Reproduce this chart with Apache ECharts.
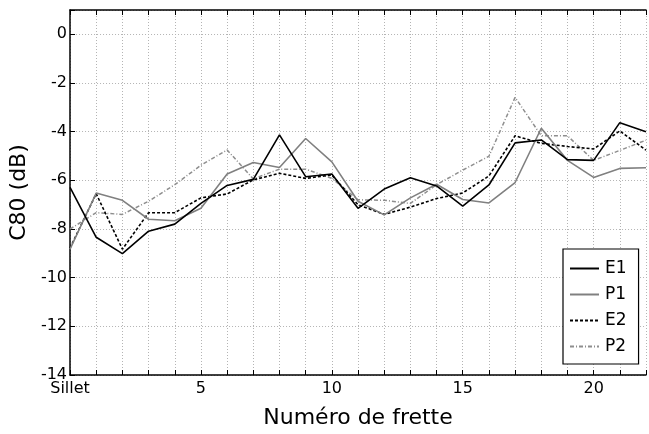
<!DOCTYPE html>
<html>
<head>
<meta charset="utf-8">
<script src="https://cdn.jsdelivr.net/npm/echarts@6/dist/echarts.min.js"></script>
<style>html,body{margin:0;padding:0;background:#fff}#c{width:649px;height:434px}</style>
</head>
<body>
<div id="c"></div>
<script>
var frets = [0,1,2,3,4,5,6,7,8,9,10,11,12,13,14,15,16,17,18,19,20,21,22];
var E1 = [-6.29,-8.34,-9.01,-8.09,-7.80,-6.95,-6.21,-5.96,-4.13,-5.85,-5.74,-7.15,-6.36,-5.89,-6.23,-7.06,-6.19,-4.46,-4.34,-5.15,-5.18,-3.63,-4.0];
var P1 = [-8.83,-6.52,-6.82,-7.60,-7.66,-7.15,-5.74,-5.27,-5.47,-4.28,-5.24,-6.86,-7.42,-6.72,-6.16,-6.79,-6.93,-6.09,-3.86,-5.18,-5.88,-5.51,-5.48];
var E2 = [-8.78,-6.55,-8.83,-7.33,-7.33,-6.72,-6.56,-5.98,-5.71,-5.92,-5.78,-7.0,-7.40,-7.10,-6.75,-6.52,-5.82,-4.17,-4.48,-4.61,-4.71,-3.97,-4.76];
var P2 = [-8.0,-7.33,-7.40,-6.86,-6.18,-5.38,-4.75,-5.94,-5.54,-5.54,-5.92,-6.80,-6.82,-6.95,-6.18,-5.58,-5.01,-2.59,-4.17,-4.17,-5.18,-4.77,-4.35];
var xLabels = {0:'Sillet',5:'5',10:'10',15:'15',20:'20'};
var yTicks = [0,-2,-4,-6,-8,-10,-12,-14];

function pairs(arr){ return frets.map(function(f,i){ return [f, arr[i]]; }); }

var font = '"DejaVu Sans", sans-serif';
var chart = echarts.init(document.getElementById('c'), null, {renderer:'canvas'});
chart.setOption({
  animation:false,
  backgroundColor:'#fff',
  grid:{left:70, top:10, right:-7, bottom:52, containLabel:false},
  xAxis:[{
    type:'value', min:0, max:22, interval:1,
    name:'Numéro de frette', nameLocation:'middle', nameGap:32,
    nameTextStyle:{fontFamily:font, fontSize:22, color:'#000'},
    axisLine:{show:true, onZero:false, lineStyle:{color:'#000', width:1.5}},
    axisTick:{show:true, inside:true, length:5, lineStyle:{color:'#000'}},
    axisLabel:{fontFamily:font, fontSize:16, color:'#000', margin:6,
      formatter:function(v){ return xLabels[v] !== undefined ? xLabels[v] : ''; }},
    splitLine:{show:true, lineStyle:{color:'#b4b4b4', type:[1,2], width:1}}
  },{
    type:'value', min:0, max:22, interval:1, position:'top',
    axisLine:{show:true, onZero:false, lineStyle:{color:'#000', width:1.5}},
    axisTick:{show:true, inside:true, length:5, lineStyle:{color:'#000'}},
    axisLabel:{show:false}, splitLine:{show:false}
  }],
  yAxis:{
    type:'value', min:-14, max:1, interval:2,
    name:'C80 (dB)', nameLocation:'middle', nameGap:34, nameRotate:90,
    nameTextStyle:{fontFamily:font, fontSize:22, color:'#000'},
    axisLine:{show:true, onZero:false, lineStyle:{color:'#000', width:1.5}},
    axisTick:{show:true, inside:true, length:5, lineStyle:{color:'#000'}},
    axisLabel:{fontFamily:font, fontSize:16, color:'#000', margin:3,
      formatter:function(v){ return yTicks.indexOf(v) >= 0 ? String(v) : ''; }},
    splitLine:{show:true, lineStyle:{color:'#b4b4b4', type:[1,2], width:1}}
  },
  legend:{
    orient:'vertical', left:563, top:249, width:66,
    padding:[11,12,9,6], itemGap:9, itemWidth:29, itemHeight:14,
    backgroundColor:'#fff', borderColor:'#000', borderWidth:1.2, borderRadius:0,
    itemStyle:{opacity:0},
    textStyle:{fontFamily:font, fontSize:17, color:'#000', padding:[0,0,0,1]},
    data:['E1','P1','E2','P2']
  },
  series:[
    {name:'E1', type:'line', data:pairs(E1), symbol:'none', xAxisIndex:0,
     lineStyle:{color:'#000', width:1.6}, itemStyle:{color:'#000'}, z:4},
    {name:'P1', type:'line', data:pairs(P1), symbol:'none', xAxisIndex:0,
     lineStyle:{color:'#808080', width:1.6}, itemStyle:{color:'#808080'}, z:3},
    {name:'E2', type:'line', data:pairs(E2), symbol:'none', xAxisIndex:0,
     lineStyle:{color:'#000', width:1.6, type:[3,2]}, itemStyle:{color:'#000'}, z:2},
    {name:'P2', type:'line', data:pairs(P2), symbol:'none', xAxisIndex:0,
     lineStyle:{color:'#8e8e8e', width:1.5, type:[4,2,1,2]}, itemStyle:{color:'#8e8e8e'}, z:1}
  ]
});
</script>
</body>
</html>
